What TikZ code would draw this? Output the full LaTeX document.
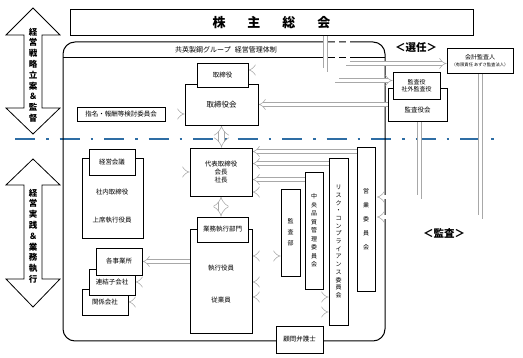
\documentclass[tikz,border=0pt]{standalone}
\usepackage{fontspec}
\setmainfont{Noto Sans CJK JP}
\usepackage{tikz}
\usetikzlibrary{arrows.meta,positioning,calc,backgrounds}
\definecolor{govLine}{HTML}{A8A8A8}
\definecolor{govBlue}{HTML}{2E6DA4}

\begin{document}
\begin{tikzpicture}[
    x=1pt, y=-1pt,
    box/.style={draw, fill=white, line width=0.9pt, align=center, inner sep=1pt, font=\fontsize{6.5}{8}\selectfont},
    vbox/.style={box, font=\fontsize{6}{#1}\selectfont},
    lbl/.style={inner sep=0pt, align=center, font=\fontsize{6.5}{8}\selectfont},
    hol/.style={draw=govLine, line width=0.55pt, double=white, double distance=3.4pt, -{Implies}},
    holboth/.style={hol, {Implies}-{Implies}},
    holwide/.style={holboth, double distance=5pt},
    bigarr/.style={draw, line width=0.8pt, fill=white},
    vtext/.style={inner sep=0pt, align=center, font=\fontsize{8.5}{10.8}\selectfont\bfseries},
]
\useasboundingbox (0,0) rectangle (523,358);

% ===== LEFT: role arrows =====
\draw[bigarr] (33,8) -- (60,35) -- (42,35) -- (42,108) -- (60,108) -- (33,134)
    -- (6,108) -- (24,108) -- (24,35) -- (6,35) -- cycle;
\node[vtext] (plan) at (33,75) {経\\営\\戦\\略\\立\\案\\＆\\監\\督};

\draw[bigarr] (33,159) -- (60,185) -- (42,185) -- (42,279) -- (60,279) -- (33,307)
    -- (6,279) -- (24,279) -- (24,185) -- (6,185) -- cycle;
\node[vtext] (practice) at (33,236) {経\\営\\実\\践\\＆\\業\\務\\執\\行};

% ===== TOP: shareholders meeting =====
\node[box, line width=1pt, minimum width=403pt, minimum height=26pt, font=\fontsize{13}{15}\selectfont\bfseries] (gm) at (271.5,23)
    {株\hspace{22pt}主\hspace{22pt}総\hspace{22pt}会};

\node[lbl, font=\fontsize{7}{8}\selectfont] (title) at (226,49.5) {共英製鋼グループ\hspace{4pt}経営管理体制};

% ===== Board side (above the line) =====
\node[box, minimum width=73pt, minimum height=41pt, font=\fontsize{7.5}{9}\selectfont] (bd) at (221.5,104.5) {取締役会};
\node[box, minimum width=51pt, minimum height=24pt] (dir) at (222.5,75) {取締役};
\node[box, minimum width=88pt, minimum height=14pt] (nom) at (121,114) {指名・報酬等検討委員会};

% ===== Execution side (below the line) =====
\node[box, minimum width=62pt, minimum height=48pt, font=\fontsize{6.5}{8}\selectfont] (rep) at (221,172) {代表取締役\\会長\\社長};

\node[box, minimum width=61pt, minimum height=80pt] (mgt) at (112.5,198) {};
\node[lbl] (inside) at (112,192) {社内取締役};
\node[lbl] (senior) at (112,220) {上席執行役員};
\node[box, minimum width=46pt, minimum height=26pt] (mc) at (112,162) {経営会議};

\node[box, minimum width=62pt, minimum height=104pt] (exe) at (221,281) {};
\node[lbl] (officer) at (221,268) {執行役員};
\node[lbl] (staff) at (221,300) {従業員};
\node[box, minimum width=51pt, minimum height=25pt] (ops) at (222.5,229.5) {業務執行部門};

\node[box, minimum width=46pt, minimum height=26pt] (aff) at (105,302) {関係会社};
\node[box, minimum width=46pt, minimum height=26pt] (sub) at (112,282) {連結子会社};
\node[box, minimum width=46pt, minimum height=27pt] (site) at (119,261.5) {各事業所};

% committees, written top to bottom
\node[vbox=11, minimum width=19pt, minimum height=87pt] (audit) at (290.5,232.5) {監\\査\\部};
\node[vbox=8.5, minimum width=18pt, minimum height=117pt] (qual) at (314,230.5) {中\\央\\品\\質\\管\\理\\委\\員\\会};
\node[vbox=7.7, minimum width=19pt, minimum height=167pt] (risk) at (338.5,241.5)
    {リ\\ス\\ク\\・\\コ\\ン\\プ\\ラ\\イ\\ア\\ン\\ス\\委\\員\\会};
\node[vbox=14, minimum width=18pt, minimum height=144pt] (sales) at (366,219) {営\\業\\委\\員\\会};

\node[box, minimum width=47pt, minimum height=27pt] (counsel) at (299.5,339.5) {顧問弁護士};

% ===== RIGHT: auditors =====
\node[box, minimum width=59pt, minimum height=33pt] (abd) at (417.5,104.5) {};
\node[lbl] (abdtxt) at (417.5,110) {監査役会};
\node[box, minimum width=47pt, minimum height=27pt, font=\fontsize{6}{7.5}\selectfont] (aud) at (416.5,85.5) {監査役\\社外監査役};
\node[box, minimum width=66pt, minimum height=25pt, font=\fontsize{6}{7}\selectfont] (acc) at (480,60.5)
    {会計監査人\\{\fontsize{4.3}{5}\selectfont （有限責任 あずさ監査法人）}};

\node[font=\fontsize{10.5}{12}\selectfont\bfseries] (elect) at (416,48) {＜選任＞};
\node[font=\fontsize{10.5}{12}\selectfont\bfseries] (check) at (444,233) {＜監査＞};

\coordinate (hitA) at (377,197);
\coordinate (hitB) at (377,217);

\begin{scope}[on background layer]
% divide between supervision and execution
\draw[govBlue, line width=2.4pt, dash pattern=on 20pt off 11pt on 2.5pt off 11pt] (15,139) -- (500,139);

% group frame
\draw[line width=1pt, rounded corners=12pt] (63,42) rectangle (385,341);
\draw[line width=0.8pt] (63,57) -- (385,57);

% election
\draw[hol] ([xshift=54pt]gm.south) |- ([yshift=5pt]dir.east);
\draw[hol] ([xshift=65.5pt]gm.south) |- ([yshift=5pt]aud.west);
\draw[hol] ([xshift=76.5pt]gm.south) |- ([yshift=-3pt]acc.west);

% board
\draw[hol] (abd.west) -- (bd.east);
\draw[hol] (nom.east) -- (nom.east -| bd.west);
\draw[holwide] (bd.south) -- (bd.south |- rep.north);
\draw[holwide] (rep.south) -- (rep.south |- ops.north);
\draw[hol] (mgt.east |- rep) -- (rep.west);

% execution
\draw[hol] (exe.west |- site) -- (site.east);
\draw[hol] (exe.west |- sub) -- (sub.east);
\draw[hol] (exe.west |- aff) -- (aff.east);

% committees report
\draw[hol] ([yshift=-5pt]sales.north west) -- ([yshift=-5pt]sales.north west -| rep.east);
\draw[hol] ([yshift=-6pt]risk.north west) -- ([yshift=-6pt]risk.north west -| rep.east);
\draw[hol] ([yshift=-8pt]qual.north west) -- ([yshift=-8pt]qual.north west -| rep.east);
\draw[hol] ([yshift=-3.5pt]audit.north west) -- ([yshift=-3.5pt]audit.north west -| rep.east);

\draw[holboth] ([yshift=-23.5pt]audit.west) -- ([yshift=-23.5pt]audit.west -| exe.east);
\draw[hol] ([yshift=-51.5pt]qual.west) -- ([yshift=-51.5pt]qual.west -| exe.east);
\draw[holboth] ([yshift=-55.5pt]risk.west -| exe.east) -- ([yshift=-55.5pt]risk.west);
\draw[hol] ([yshift=-70.5pt]risk.west -| exe.east) -- ([yshift=-70.5pt]risk.west);

% audit
\draw[hol] ([xshift=2pt]abd.south) |- (hitA);
\draw[hol] ([xshift=0.5pt]acc.south) |- (hitB);
\end{scope}
\end{tikzpicture}
\end{document}
